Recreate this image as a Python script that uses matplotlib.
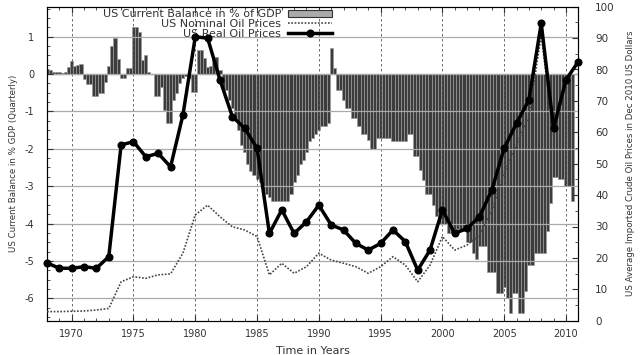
import matplotlib
matplotlib.use("Agg")
import matplotlib.pyplot as plt
from matplotlib.patches import Patch
from matplotlib.lines import Line2D
from matplotlib.ticker import MultipleLocator

plt.rcParams['font.family'] = ['DejaVu Sans']
plt.rcParams['axes.unicode_minus'] = False

# --- Data -------------------------------------------------------------
# US current account balance, % of GDP, quarterly (Q1..Q4 per year)
ca_years = list(range(1968, 2011))
ca_quarterly = [
    [0.13, 0.10, 0.05, 0.05],      # 1968
    [0.05, 0.03, 0.05, 0.18],      # 1969
    [0.35, 0.22, 0.25, 0.27],      # 1970
    [-0.13, -0.27, -0.27, -0.58],  # 1971
    [-0.58, -0.50, -0.50, -0.22],  # 1972
    [0.22, 0.75, 0.96, 0.40],      # 1973
    [-0.10, -0.10, 0.15, 0.15],    # 1974
    [1.25, 1.25, 1.13, 0.37],      # 1975
    [0.50, 0.05, 0.00, -0.60],     # 1976
    [-0.60, -0.35, -0.96, -1.30],  # 1977
    [-1.30, -0.70, -0.50, -0.25],  # 1978
    [-0.10, -0.05, -0.10, -0.47],  # 1979
    [-0.47, 0.64, 0.64, 0.42],     # 1980
    [0.20, 0.22, 0.45, 0.45],      # 1981
    [0.10, -0.43, -0.43, -0.70],   # 1982
    [-0.90, -1.20, -1.50, -1.90],  # 1983
    [-2.10, -2.40, -2.60, -2.70],  # 1984
    [-2.80, -2.90, -3.10, -3.20],  # 1985
    [-3.30, -3.40, -3.40, -3.40],  # 1986
    [-3.40, -3.40, -3.40, -3.20],  # 1987
    [-2.90, -2.70, -2.40, -2.30],  # 1988
    [-2.10, -1.80, -1.70, -1.60],  # 1989
    [-1.50, -1.40, -1.40, -1.30],  # 1990
    [0.70, 0.15, -0.43, -0.43],    # 1991
    [-0.70, -0.90, -0.90, -1.17],  # 1992
    [-1.17, -1.40, -1.60, -1.60],  # 1993
    [-1.76, -2.00, -2.00, -1.70],  # 1994
    [-1.70, -1.70, -1.70, -1.70],  # 1995
    [-1.80, -1.80, -1.80, -1.80],  # 1996
    [-1.80, -1.60, -1.60, -2.20],  # 1997
    [-2.20, -2.56, -2.83, -3.20],  # 1998
    [-3.20, -3.50, -3.80, -4.00],  # 1999
    [-4.00, -4.00, -4.25, -4.25],  # 2000
    [-4.15, -4.15, -4.20, -4.20],  # 2001
    [-4.50, -4.50, -4.80, -4.96],  # 2002
    [-4.60, -4.60, -4.60, -5.30],  # 2003
    [-5.30, -5.30, -5.85, -5.85],  # 2004
    [-5.70, -6.00, -6.40, -5.85],  # 2005
    [-5.85, -6.40, -6.40, -5.80],  # 2006
    [-5.10, -5.10, -4.80, -4.80],  # 2007
    [-4.80, -4.80, -4.20, -3.45],  # 2008
    [-2.75, -2.75, -2.80, -2.80],  # 2009
    [-3.00, -3.00, -3.40],         # 2010
]

# Annual oil prices (US average imported crude)
oil_years = list(range(1968, 2012))
real_oil = [18.4, 16.7, 16.7, 17.2, 16.7, 20.4, 56.0, 57.0, 52.2, 53.3,
            49.0, 65.5, 90.4, 90.0, 76.7, 65.0, 61.3, 54.9, 27.8, 35.3,
            27.8, 31.5, 36.8, 30.5, 28.9, 24.6, 22.5, 24.6, 28.9, 25.2,
            16.1, 22.5, 35.3, 27.8, 29.4, 33.1, 41.6, 54.9, 62.9, 70.3,
            94.7, 61.3, 76.7, 82.5]
nominal_oil = [2.9, 2.9, 3.0, 3.1, 3.4, 3.9, 12.4, 14.0, 13.5, 14.6,
               14.9, 21.5, 33.7, 36.8, 33.1, 29.9, 28.9, 26.8, 14.6, 18.3,
               15.1, 17.2, 21.5, 19.3, 18.3, 17.2, 15.1, 17.2, 20.4, 17.7,
               12.4, 17.7, 26.8, 22.5, 24.1, 27.3, 35.0, 47.0, 56.0, 65.0,
               91.0, 59.0, 76.0, 83.0]

x_ticks = [1970, 1975, 1980, 1985, 1990, 1995, 2000, 2005, 2010]
left_ticks = [-6, -5, -4, -3, -2, -1, 0, 1]
right_ticks = [0, 10, 20, 30, 40, 50, 60, 70, 80, 90, 100]

legend_labels = ["US Current Balance in % of GDP",
                 "US Nominal Oil Prices",
                 "US Real Oil Prices"]

# --- Figure -----------------------------------------------------------
W, H = 640, 355
fig = plt.figure(figsize=(W / 100, H / 100), dpi=100)
L, R, T, B = 47, 578.3, 6.7, 320.7
ax = fig.add_axes([L / W, 1 - B / H, (R - L) / W, (B - T) / H])
ax2 = ax.twinx()

# bars
bx, bv = [], []
for y, qs in zip(ca_years, ca_quarterly):
    for q, v in enumerate(qs):
        bx.append(y + q * 0.25)
        bv.append(v)
ax.bar(bx, bv, width=0.25, align='center', facecolor='#3c3c3c',
       edgecolor='#9a9a9a', linewidth=0.5, zorder=2)
ax.axhline(0, color='#222222', lw=0.8, zorder=2.5)

ax.set_xlim(1968, 2011)
ax.set_ylim(-6.6, 1.8)
ax.set_xticks(x_ticks)
ax.set_yticks(left_ticks)
ax.xaxis.set_minor_locator(MultipleLocator(1))
ax.yaxis.set_minor_locator(MultipleLocator(0.25))
ax.grid(axis='x', which='major', color='#555555', ls=(0, (3, 3)), lw=0.6, zorder=3)
ax.grid(axis='y', which='major', color='#aaaaaa', ls='-', lw=0.9, zorder=3)
ax.set_axisbelow(False)

ax.tick_params(axis='both', which='both', direction='in', labelsize=7,
               top=True, colors='#333333')
ax.tick_params(axis='both', which='major', length=4)
ax.tick_params(axis='both', which='minor', length=2)
ax.tick_params(axis='y', which='both', right=False, pad=9)
ax.tick_params(axis='x', pad=6)
for s in ax.spines.values():
    s.set_color('#333333')
    s.set_linewidth(0.8)

# lines on right axis
ax2.set_ylim(0, 100)
ax2.set_yticks(right_ticks)
ax2.yaxis.set_minor_locator(MultipleLocator(5))
ax2.tick_params(axis='y', which='both', direction='in', labelsize=7.5,
                pad=12, colors='#333333')
ax2.tick_params(axis='y', which='major', length=4)
ax2.tick_params(axis='y', which='minor', length=2)
ax2.plot(oil_years, nominal_oil, color='#444444', lw=1.2,
         ls=(0, (1, 1.0)), zorder=4)
ax2.plot(oil_years, real_oil, color='black', lw=2.5, marker='o',
         markersize=4.8, zorder=5, clip_on=False)

# labels
ax.set_ylabel("US Current Balance in % GDP (Quarterly)", fontsize=6.2,
              color='#333333', labelpad=5)
ax2.set_ylabel("US Average Imported Crude Oil Prices in Dec 2010 US Dollars",
               fontsize=6.2, color='#333333', labelpad=8)
ax.set_xlabel("Time in Years", fontsize=8, color='#333333', labelpad=5)

# legend (below the lines, like the reference)
handles = [Patch(facecolor='#aaaaaa', edgecolor='#333333', lw=0.8),
           Line2D([], [], color='#444444', lw=1.2, ls=(0, (1, 1.0))),
           Line2D([], [], color='black', lw=2.5, marker='o', markersize=4.8)]
leg = ax.legend(handles, legend_labels, loc='upper right',
                bbox_to_anchor=(332 / W, 1 - 9 / H),
                bbox_transform=fig.transFigure, frameon=False,
                markerfirst=False, fontsize=8, handlelength=4,
                handleheight=0.6, handletextpad=0.6, labelspacing=0.0,
                borderpad=0, borderaxespad=0)
for t in leg.get_texts():
    t.set_color('#333333')
leg.set_zorder(6)

fig.savefig("out.png", dpi=100)
